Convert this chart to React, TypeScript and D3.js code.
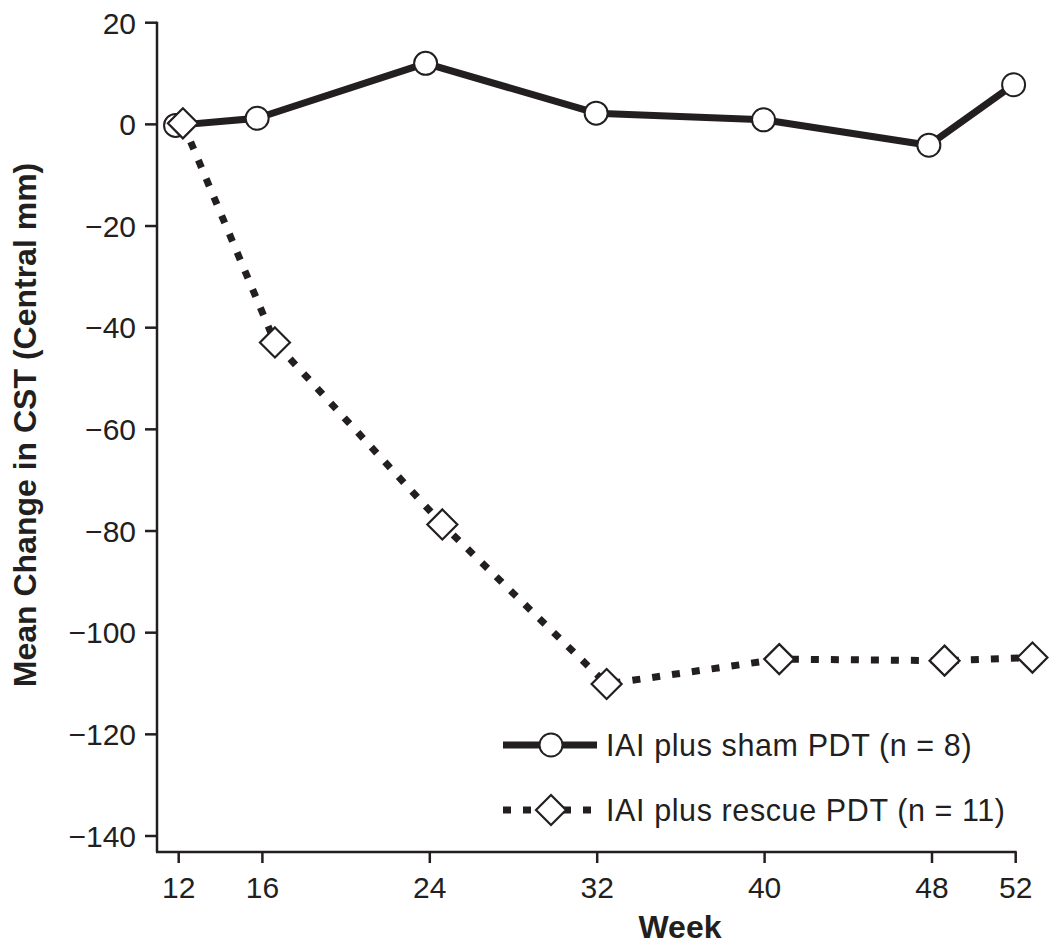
import React, { useEffect, useRef } from "react";
import * as d3 from "d3";

const weekTicks = [12, 16, 24, 32, 40, 48, 52];
const yTicks = [20, 0, -20, -40, -60, -80, -100, -120, -140];

// plotted positions are slightly dodged left/right of the nominal week
const shamWeeks = [11.85, 15.75, 23.8, 31.95, 39.95, 47.85, 51.9];
const shamChange = [-0.2, 1.2, 12.0, 2.2, 0.9, -4.1, 7.8];
const rescueWeeks = [12.2, 16.6, 24.6, 32.45, 40.7, 48.6, 52.8];
const rescueChange = [0.2, -42.9, -78.7, -110.1, -105.2, -105.5, -104.9];

const legendLabels = ["IAI plus sham PDT (n = 8)", "IAI plus rescue PDT (n = 11)"];

const INK = "#231f20";
const FONT = "'Liberation Sans', Arial, Helvetica, sans-serif";

const App = () => {
  const svgRef = useRef<SVGSVGElement>(null);

  useEffect(() => {
    const svg = d3.select(svgRef.current);
    svg.selectAll("*").remove();

    const x = d3.scaleLinear().domain([12, 52]).range([178.7, 1015.7]);
    const y = d3.scaleLinear().domain([-140, 20]).range([836, 22.7]);
    const axisX = 157;
    const axisY = 852;

    const g = svg.append("g").style("font-family", FONT);

    // y axis
    g.append("line")
      .attr("x1", axisX).attr("x2", axisX)
      .attr("y1", y(20) - 1).attr("y2", axisY)
      .attr("stroke", INK).attr("stroke-width", 2.5);
    yTicks.forEach((t) => {
      g.append("line")
        .attr("x1", axisX - 12).attr("x2", axisX)
        .attr("y1", y(t)).attr("y2", y(t))
        .attr("stroke", INK).attr("stroke-width", 2.5);
      g.append("text")
        .attr("x", axisX - 21)
        .attr("y", y(t))
        .attr("dy", "0.36em")
        .attr("text-anchor", "end")
        .attr("font-size", 30)
        .attr("fill", INK)
        .text(d3.format("")(t));
    });

    // x axis
    g.append("line")
      .attr("x1", axisX - 1).attr("x2", x(52) + 1)
      .attr("y1", axisY).attr("y2", axisY)
      .attr("stroke", INK).attr("stroke-width", 2.5);
    weekTicks.forEach((t) => {
      g.append("line")
        .attr("x1", x(t)).attr("x2", x(t))
        .attr("y1", axisY).attr("y2", axisY + 11)
        .attr("stroke", INK).attr("stroke-width", 2.5);
      g.append("text")
        .attr("x", x(t))
        .attr("y", 898)
        .attr("text-anchor", "middle")
        .attr("font-size", 30)
        .attr("fill", INK)
        .text(t);
    });

    // axis titles
    g.append("text")
      .attr("x", 680).attr("y", 938)
      .attr("text-anchor", "middle")
      .attr("font-size", 32).attr("font-weight", "bold")
      .attr("fill", INK)
      .text("Week");
    g.append("text")
      .attr("transform", "translate(36,425) rotate(-90)")
      .attr("text-anchor", "middle")
      .attr("font-size", 32).attr("font-weight", "bold")
      .attr("fill", INK)
      .text("Mean Change in CST (Central mm)");

    const line = d3.line<[number, number]>()
      .x((d) => x(d[0]))
      .y((d) => y(d[1]));

    const sham: [number, number][] = shamWeeks.map((w, i) => [w, shamChange[i]]);
    const rescue: [number, number][] = rescueWeeks.map((w, i) => [w, rescueChange[i]]);

    const diamond = (cx: number, cy: number, r: number) =>
      `M${cx},${cy - r}L${cx + r},${cy}L${cx},${cy + r}L${cx - r},${cy}Z`;

    // sham series
    g.append("path")
      .attr("d", line(sham))
      .attr("fill", "none").attr("stroke", INK)
      .attr("stroke-width", 7).attr("stroke-linejoin", "round");
    g.selectAll(".sham-pt")
      .data(sham)
      .enter()
      .append("circle")
      .attr("cx", (d) => x(d[0]))
      .attr("cy", (d) => y(d[1]))
      .attr("r", 11.5)
      .attr("fill", "#fff").attr("stroke", INK).attr("stroke-width", 2);

    // rescue series
    g.append("path")
      .attr("d", line(rescue))
      .attr("fill", "none").attr("stroke", INK)
      .attr("stroke-width", 7).attr("stroke-dasharray", "8 12");
    g.selectAll(".rescue-pt")
      .data(rescue)
      .enter()
      .append("path")
      .attr("d", (d) => diamond(x(d[0]), y(d[1]), 15))
      .attr("fill", "#fff").attr("stroke", INK).attr("stroke-width", 2.2);

    // legend
    const lg = g.append("g");
    const rows = [745, 810];
    lg.append("line")
      .attr("x1", 503).attr("x2", 597)
      .attr("y1", rows[0]).attr("y2", rows[0])
      .attr("stroke", INK).attr("stroke-width", 7);
    lg.append("circle")
      .attr("cx", 551).attr("cy", rows[0]).attr("r", 11.5)
      .attr("fill", "#fff").attr("stroke", INK).attr("stroke-width", 2);
    lg.append("line")
      .attr("x1", 503).attr("x2", 600)
      .attr("y1", rows[1]).attr("y2", rows[1])
      .attr("stroke", INK).attr("stroke-width", 7)
      .attr("stroke-dasharray", "8 12");
    lg.append("path")
      .attr("d", diamond(551, rows[1], 15))
      .attr("fill", "#fff").attr("stroke", INK).attr("stroke-width", 2.2);
    legendLabels.forEach((label, i) => {
      lg.append("text")
        .attr("x", 606)
        .attr("y", rows[i])
        .attr("dy", "0.36em")
        .attr("font-size", 30.5)
        .attr("letter-spacing", 0.6)
        .attr("fill", INK)
        .text(label);
    });
  }, []);

  return (
    <svg
      ref={svgRef}
      width={1051}
      height={948}
      style={{ position: "absolute", left: 0, top: 0, background: "#fff" }}
    ></svg>
  );
};

export default App;
